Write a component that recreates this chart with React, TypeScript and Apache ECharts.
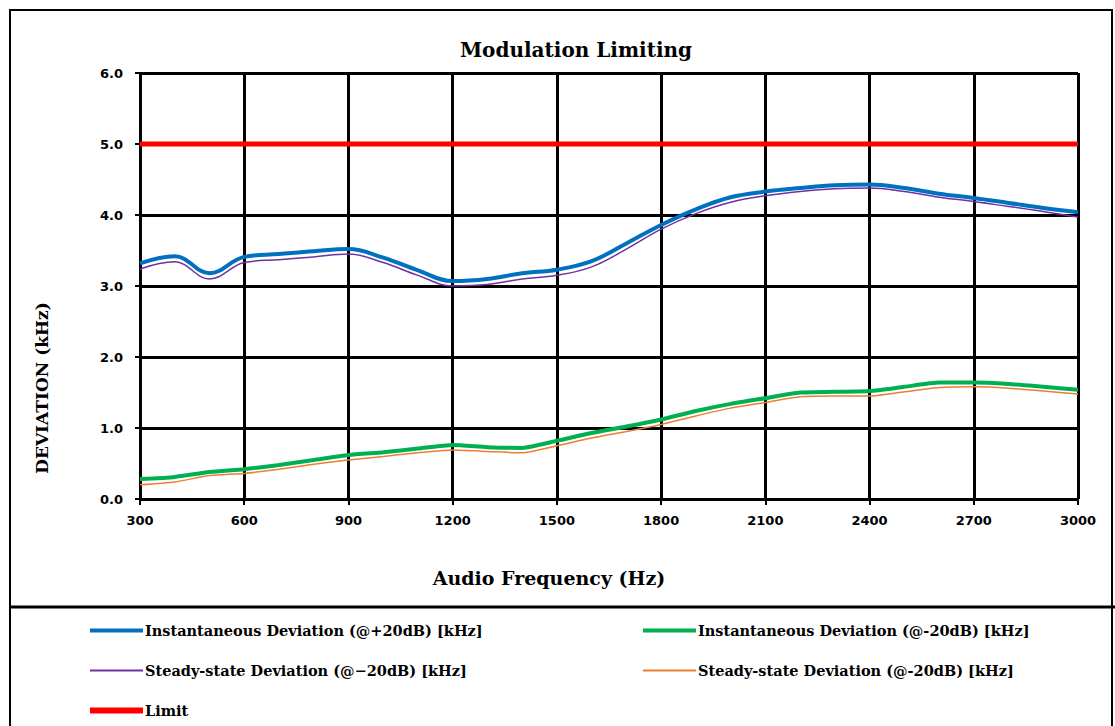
import React, { useEffect, useRef } from "react";
import * as echarts from "echarts";

const freqs = [300, 400, 500, 600, 700, 800, 900, 1000, 1100, 1200, 1300, 1400, 1500, 1600, 1700, 1800, 1900, 2000, 2100, 2200, 2300, 2400, 2500, 2600, 2700, 2800, 2900, 3000];
const instPlus = [3.32, 3.42, 3.18, 3.41, 3.45, 3.49, 3.52, 3.40, 3.22, 3.07, 3.10, 3.18, 3.23, 3.35, 3.60, 3.86, 4.08, 4.25, 4.33, 4.38, 4.42, 4.43, 4.38, 4.30, 4.24, 4.17, 4.10, 4.04];
const steadyPlus = [3.24, 3.34, 3.10, 3.33, 3.37, 3.41, 3.45, 3.33, 3.15, 3.00, 3.02, 3.10, 3.15, 3.27, 3.52, 3.80, 4.02, 4.18, 4.27, 4.33, 4.37, 4.38, 4.33, 4.25, 4.19, 4.12, 4.05, 3.97];
const instMinus = [0.28, 0.31, 0.38, 0.42, 0.48, 0.55, 0.62, 0.66, 0.71, 0.76, 0.73, 0.72, 0.82, 0.93, 1.02, 1.12, 1.24, 1.34, 1.42, 1.50, 1.51, 1.52, 1.58, 1.64, 1.64, 1.62, 1.58, 1.54];
const steadyMinus = [0.20, 0.24, 0.33, 0.36, 0.42, 0.49, 0.55, 0.60, 0.65, 0.69, 0.67, 0.65, 0.75, 0.86, 0.95, 1.05, 1.17, 1.28, 1.36, 1.44, 1.45, 1.45, 1.51, 1.57, 1.58, 1.56, 1.52, 1.48];
const limitValue = 5.0;

const names = [
  "Instantaneous Deviation (@+20dB) [kHz]",
  "Instantaneous Deviation (@-20dB) [kHz]",
  "Steady-state Deviation (@\u221220dB) [kHz]",
  "Steady-state Deviation (@-20dB) [kHz]",
  "Limit",
];

const pair = (ys: number[]) => freqs.map((f, i) => [f, ys[i]]);

export default function App() {
  const ref = useRef<HTMLDivElement>(null);
  useEffect(() => {
    if (!ref.current) return;
    const chart = echarts.init(ref.current, null, { renderer: "svg" });
    const serif = "DejaVu Serif";
    const sans = "DejaVu Sans";
    const legendText = { fontFamily: serif, fontWeight: "bold", fontSize: 14.5, color: "#000" };
    const mkLegend = (name: string, color: string, h: number, left: number, top: number) => ({
      left,
      top,
      itemWidth: 53,
      itemHeight: h,
      itemGap: 0,
      selectedMode: false,
      data: [{ name, icon: "rect", itemStyle: { color } }],
      textStyle: { ...legendText, padding: [0, 0, 0, -3] },
    });
    chart.setOption({
      animation: false,
      backgroundColor: "#fff",
      grid: { left: 140, right: 37, top: 73, bottom: 227, containLabel: false },
      legend: [
        mkLegend(names[0], "#0070C0", 4, 85, 618),
        mkLegend(names[1], "#00B050", 4, 638, 618),
        mkLegend(names[2], "#7030A0", 2, 85, 658),
        mkLegend(names[3], "#ED7D31", 2, 638, 658),
        mkLegend(names[4], "#FF0000", 6, 85, 698),
      ],
      xAxis: {
        type: "value",
        min: 300,
        max: 3000,
        interval: 300,
        axisLine: { show: true, lineStyle: { color: "#000", width: 2 } },
        axisTick: { show: true, length: 6, lineStyle: { color: "#000", width: 2 } },
        axisLabel: { color: "#000", fontFamily: sans, fontWeight: "bold", fontSize: 13, margin: 15, formatter: (v: number) => String(v) },
        splitLine: { show: true, lineStyle: { color: "#000", width: 3 } },
      },
      yAxis: {
        type: "value",
        min: 0,
        max: 6,
        interval: 1,
        axisLine: { show: true, lineStyle: { color: "#000", width: 2 } },
        axisTick: { show: true, length: 5, lineStyle: { color: "#000", width: 2 } },
        axisLabel: {
          color: "#000",
          fontFamily: sans,
          fontWeight: "bold",
          fontSize: 13,
          margin: 17,
          formatter: (v: number) => v.toFixed(1),
        },
        splitLine: { show: true, lineStyle: { color: "#000", width: 3 } },
      },
      graphic: [
        { type: "rect", shape: { x: 10, y: 10, width: 1102, height: 730 }, style: { fill: "none", stroke: "#000", lineWidth: 2 }, silent: true, z: -1 },
        { type: "line", shape: { x1: 10, y1: 607, x2: 1115, y2: 607 }, style: { stroke: "#000", lineWidth: 3 }, silent: true },
        { type: "text", x: 576, y: 50, style: { text: "Modulation Limiting", font: `bold 20px "${serif}"`, fill: "#000", textAlign: "center", textVerticalAlign: "middle" } },
        { type: "text", x: 549, y: 578, style: { text: "Audio Frequency (Hz)", font: `bold 19px "${serif}"`, fill: "#000", textAlign: "center", textVerticalAlign: "middle" } },
        { type: "text", x: 42, y: 388, rotation: Math.PI / 2, style: { text: "DEVIATION (kHz)", font: `bold 17px "${serif}"`, fill: "#000", textAlign: "center", textVerticalAlign: "middle" } },
      ],
      series: [
        { name: names[4], type: "line", data: freqs.map((f) => [f, limitValue]), showSymbol: false, lineStyle: { color: "#FF0000", width: 5 }, itemStyle: { color: "#FF0000" }, z: 3 },
        { name: names[2], type: "line", data: pair(steadyPlus), smooth: 0.4, showSymbol: false, lineStyle: { color: "#7030A0", width: 1.5 }, itemStyle: { color: "#7030A0" }, z: 4 },
        { name: names[0], type: "line", data: pair(instPlus), smooth: 0.4, showSymbol: false, lineStyle: { color: "#0070C0", width: 4 }, itemStyle: { color: "#0070C0" }, z: 5 },
        { name: names[3], type: "line", data: pair(steadyMinus), smooth: 0.2, showSymbol: false, lineStyle: { color: "#ED7D31", width: 1.5 }, itemStyle: { color: "#ED7D31" }, z: 4 },
        { name: names[1], type: "line", data: pair(instMinus), smooth: 0.2, showSymbol: false, lineStyle: { color: "#00B050", width: 4 }, itemStyle: { color: "#00B050" }, z: 5 },
      ],
    });
    return () => chart.dispose();
  }, []);
  return <div ref={ref} style={{ position: "fixed", left: 0, top: 0, width: 1115, height: 726 }} />;
}
